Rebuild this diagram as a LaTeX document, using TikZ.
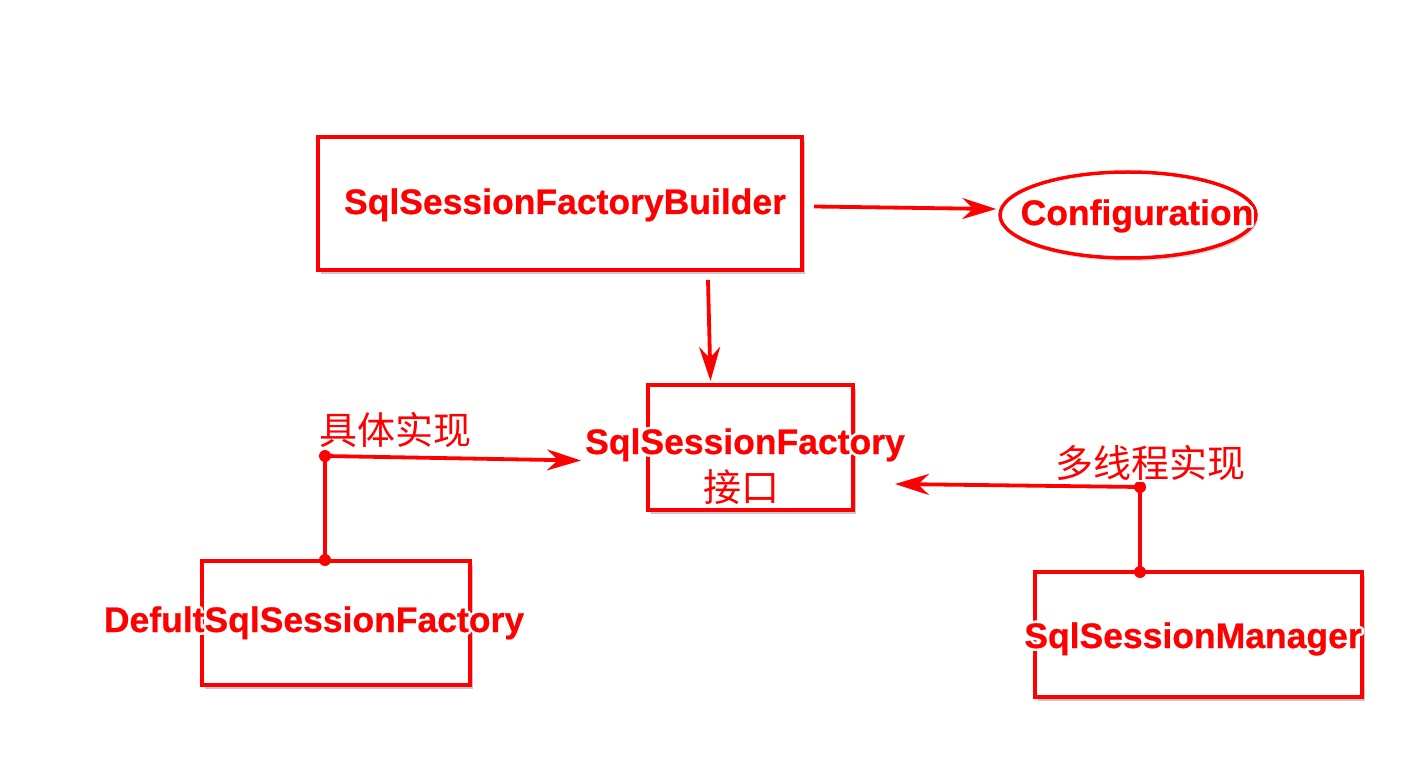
\documentclass[tikz,border=0pt]{standalone}
\usepackage{fontspec}
\setmainfont{Liberation Sans}
\newfontfamily\lblfont[FakeBold=0.6]{Liberation Sans Bold}
\newfontfamily\cjk{Noto Sans CJK SC}
\usepackage{contour}
\contourlength{2.5pt}
\usetikzlibrary{arrows.meta,shadows,shapes.geometric}
\definecolor{rd}{RGB}{255,0,0}
\tikzset{
  box/.style={draw=rd, line width=4pt, fill=white, rectangle, inner sep=0pt,
    drop shadow={shadow xshift=3pt, shadow yshift=-4pt, opacity=0.3, fill=black!70}},
  oval/.style={draw=rd, line width=3.5pt, fill=white, ellipse, inner sep=0pt,
    drop shadow={shadow xshift=2pt, shadow yshift=-3pt, opacity=0.2, fill=black!70}},
  lbl/.style={text=rd, font=\fontsize{35.5}{40}\selectfont\lblfont, inner sep=0pt},
  clbl/.style={text=rd, font=\fontsize{38}{44}\selectfont\cjk, inner sep=0pt},
  arr/.style={draw=rd, line width=3.8pt, -{Stealth[length=34pt,width=21pt,inset=11pt]}},
  ln/.style={draw=rd, line width=3.8pt},
  dotnode/.style={circle, fill=rd, inner sep=0pt, minimum size=12pt},
}
\begin{document}
\begin{tikzpicture}[x=1pt,y=-1pt]
\useasboundingbox (0,0) rectangle (1401,778);
\fill[white] (0,0) rectangle (1401,778);

% boxes
\node[box, minimum width=484pt, minimum height=133pt] (builder) at (560,203.5) {};
\node[oval, minimum width=256pt, minimum height=86pt] (config) at (1128,215) {};
\node[box, minimum width=205pt, minimum height=125pt] (iface) at (750.5,447.5) {};
\node[box, minimum width=268pt, minimum height=124pt] (defult) at (336,623) {};
\node[box, minimum width=327pt, minimum height=125pt] (manager) at (1198.5,634.5) {};

% junction coordinates
\coordinate (j1) at (325,456);
\coordinate (j2) at (1140,487);
\coordinate (d1) at (325,560);
\coordinate (d2) at (1140,572);

% connectors
\draw[arr] ([xshift=10pt,yshift=-3pt]builder.east) -- ([xshift=-2pt,yshift=6pt]config.west);
\draw[arr] ([xshift=148pt,yshift=-8pt]builder.south) -- ([xshift=-40pt,yshift=2pt]iface.north);
\draw[ln] (d1) -- (j1);
\draw[arr] (j1) -- ([xshift=-65pt,yshift=-13pt]iface.west);
\draw[ln] (d2) -- (j2);
\draw[arr] (j2) -- ([xshift=40pt,yshift=-36.5pt]iface.east);
\node[dotnode] (dj1) at (j1) {};
\node[dotnode] (dd1) at (d1) {};
\node[dotnode] (dj2) at (j2) {};
\node[dotnode] (dd2) at (d2) {};

% labels
\node[lbl, anchor=base] (tbuilder) at (565,214) {\contour{white}{SqlSessionFactoryBuilder}};
\node[lbl, anchor=base] (tconfig) at (1137,225) {\contour{white}{Configuration}};
\node[lbl, anchor=base] (tiface) at (745,454) {\contour{white}{SqlSessionFactory}};
\node[clbl] (tiface2) at (741,488) {\contour{white}{接口}};
\node[clbl] (tjuti) at (395,431) {\contour{white}{具体实现}};
\node[clbl] (tduo) at (1150,464) {\contour{white}{多线程实现}};
\node[lbl, anchor=base] (tdefult) at (314,632) {\contour{white}{DefultSqlSessionFactory}};
\node[lbl, anchor=base] (tmanager) at (1193,648) {\contour{white}{SqlSessionManager}};
\end{tikzpicture}
\end{document}
